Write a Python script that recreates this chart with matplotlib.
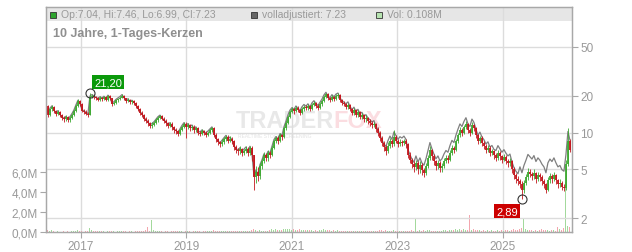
import numpy as np
import matplotlib
matplotlib.use('Agg')
import matplotlib.pyplot as plt
from matplotlib.patches import Rectangle
from matplotlib.ticker import NullLocator

plt.rcParams['font.family'] = ['Liberation Sans', 'DejaVu Sans']

# closes of roughly two-week candles, May 2016 .. Apr 2026
close = [
    16.5, 14.0, 15.5, 16.2, 15.0, 14.2, 14.8, 13.8, 13.2, 12.8,
    13.3, 12.6, 13.2, 14.0, 15.0, 16.5, 18.0, 17.0, 15.0, 14.8,
    14.3, 14.0, 19.5, 20.0, 19.5, 19.0, 18.6, 19.2, 18.8, 19.4,
    18.5, 19.8, 19.0, 17.0, 17.5, 18.3, 18.8, 19.3, 20.0, 19.0,
    18.0, 18.5, 17.6, 18.0, 17.3, 16.5, 15.5, 14.5, 14.0, 13.0,
    12.5, 12.0, 11.3, 11.6, 12.0, 12.6, 13.2, 13.6, 13.0, 12.4,
    12.0, 11.4, 11.8, 11.0, 10.5, 10.2, 9.8, 10.5, 11.2, 11.8,
    11.0, 11.5, 10.8, 11.2, 10.5, 10.8, 10.0, 9.8, 10.2, 9.9,
    9.6, 10.0, 10.4, 10.8, 9.6, 8.8, 8.3, 8.0, 8.4, 8.8,
    9.2, 8.6, 8.9, 8.5, 7.6, 7.2, 7.0, 7.3, 6.8, 7.1,
    7.4, 6.8, 7.5, 6.5, 4.3, 4.8, 4.4, 5.3, 5.8, 6.5,
    6.2, 6.8, 6.6, 7.5, 8.5, 9.0, 8.6, 9.5, 9.2, 10.8,
    12.0, 13.5, 14.8, 15.5, 15.0, 16.0, 15.2, 14.5, 15.6, 16.3,
    15.8, 16.5, 15.5, 16.8, 17.5, 16.6, 16.0, 17.0, 18.0, 19.5,
    20.5, 19.0, 18.5, 19.6, 18.8, 19.8, 20.2, 18.5, 17.5, 17.0,
    16.2, 16.8, 15.5, 14.5, 15.2, 14.0, 14.6, 13.5, 13.8, 12.8,
    13.2, 12.4, 12.0, 11.5, 11.8, 10.6, 10.0, 9.0, 8.2, 7.6,
    7.0, 7.8, 8.5, 8.0, 9.2, 8.6, 8.0, 8.4, 8.2, 8.5,
    8.0, 6.6, 6.0, 5.5, 5.2, 5.6, 5.0, 5.4, 4.9, 4.7,
    5.3, 6.2, 7.2, 6.4, 5.8, 5.3, 5.6, 5.1, 5.3, 5.8,
    6.2, 6.0, 6.8, 7.5, 7.2, 8.5, 9.5, 10.5, 10.0, 11.0,
    11.8, 10.5, 10.0, 11.5, 10.8, 9.5, 8.5, 9.0, 8.2, 7.8,
    7.2, 7.5, 6.8, 7.0, 6.5, 6.2, 6.8, 6.4, 6.0, 6.3,
    5.9, 5.6, 5.8, 5.0, 4.5, 4.2, 4.0, 3.8, 3.4, 3.9,
    4.3, 4.8, 4.6, 4.4, 4.7, 4.2, 4.5, 4.3, 4.0, 3.8,
    3.4, 4.1, 4.4, 4.2, 4.5, 4.1, 3.8, 3.9, 3.6, 3.5,
    5.5, 8.5, 7.23,
]
first_open = 16.8

high = [
    17.6, 16.9, 16.0, 16.8, 16.6, 15.4, 15.4, 15.1, 14.2, 13.6,
    13.8, 13.6, 13.6, 14.5, 15.6, 17.0, 18.8, 18.4, 17.3, 15.5,
    15.2, 14.7, 21.2, 20.6, 20.5, 19.9, 19.4, 19.8, 19.6, 20.0,
    19.8, 20.4, 20.2, 19.2, 18.0, 18.8, 19.3, 19.8, 20.6, 20.3,
    19.3, 19.0, 18.9, 18.5, 18.3, 17.6, 16.8, 15.8, 14.9, 14.3,
    13.4, 12.9, 12.3, 12.1, 12.5, 13.1, 13.7, 14.0, 13.9, 13.3,
    12.8, 12.3, 12.3, 12.1, 11.3, 10.9, 10.5, 10.9, 11.6, 12.3,
    12.2, 12.0, 11.8, 11.6, 11.5, 11.2, 11.1, 10.3, 10.6, 10.5,
    10.2, 10.3, 10.8, 11.2, 11.0, 9.9, 9.1, 8.6, 8.8, 9.2,
    9.6, 9.5, 9.3, 9.2, 8.7, 7.9, 7.5, 7.7, 7.5, 7.4,
    7.8, 7.6, 7.8, 7.7, 6.6, 5.3, 5.2, 5.6, 6.2, 6.9,
    6.8, 7.2, 7.1, 7.9, 8.9, 9.4, 9.3, 9.9, 9.8, 11.3,
    12.6, 14.0, 15.4, 16.2, 16.0, 16.6, 16.4, 15.6, 16.1, 16.9,
    16.8, 17.1, 16.8, 17.4, 18.2, 17.9, 17.0, 17.6, 18.7, 20.3,
    21.2, 20.9, 19.5, 20.2, 20.0, 20.5, 20.9, 20.5, 18.9, 18.0,
    17.4, 17.4, 17.1, 15.9, 15.8, 15.5, 15.2, 14.9, 14.4, 14.1,
    13.8, 13.5, 12.8, 12.4, 12.3, 12.0, 11.0, 10.3, 9.3, 8.5,
    7.9, 8.3, 9.0, 8.8, 10.4, 9.6, 8.9, 8.8, 8.7, 8.9,
    8.8, 8.2, 6.9, 6.2, 5.8, 6.0, 5.9, 5.8, 5.6, 5.1,
    5.6, 6.6, 7.8, 7.4, 6.7, 6.0, 6.0, 5.8, 5.6, 6.2,
    6.6, 6.5, 7.2, 7.9, 7.8, 8.9, 10.0, 11.1, 10.9, 11.5,
    12.4, 12.0, 10.9, 12.1, 11.8, 11.0, 9.8, 9.4, 9.3, 8.5,
    8.0, 7.9, 7.7, 7.4, 7.2, 6.8, 7.2, 7.0, 6.6, 6.7,
    6.5, 6.1, 6.2, 6.0, 5.2, 4.7, 4.4, 4.2, 4.0, 4.1,
    4.6, 5.1, 5.0, 4.8, 5.0, 4.8, 4.8, 4.7, 4.5, 4.2,
    3.9, 4.3, 4.7, 4.6, 4.8, 4.6, 4.2, 4.2, 4.0, 3.8,
    6.0, 10.8, 8.8,
]

low = [
    15.8, 13.4, 13.6, 15.0, 14.5, 13.6, 13.8, 13.3, 12.7, 12.3,
    12.4, 12.1, 12.3, 12.9, 13.7, 14.7, 16.2, 16.5, 14.6, 14.2,
    13.8, 13.5, 13.8, 19.0, 18.8, 18.4, 18.0, 18.2, 18.2, 18.4,
    18.0, 18.2, 18.5, 16.6, 16.7, 17.2, 17.9, 18.4, 19.0, 18.5,
    17.5, 17.6, 17.1, 17.1, 16.8, 16.0, 15.0, 14.0, 13.4, 12.5,
    12.0, 11.4, 10.8, 10.9, 11.3, 11.7, 12.3, 12.9, 12.6, 11.9,
    11.4, 10.9, 11.0, 10.5, 10.0, 9.7, 9.3, 9.5, 10.2, 10.9,
    9.0, 10.6, 10.3, 10.4, 10.0, 10.1, 9.6, 9.4, 9.5, 9.5,
    9.2, 9.3, 9.7, 10.1, 9.2, 8.4, 7.9, 7.6, 7.7, 8.1,
    8.5, 8.2, 8.3, 8.1, 7.2, 6.8, 6.6, 6.7, 6.4, 6.5,
    6.8, 6.4, 6.5, 5.9, 3.4, 3.9, 4.0, 4.2, 5.0, 5.6,
    5.8, 5.9, 6.2, 6.4, 7.3, 8.2, 8.1, 8.4, 8.7, 9.0,
    10.5, 11.7, 13.1, 14.4, 14.2, 14.6, 14.6, 13.8, 14.2, 15.1,
    15.2, 15.4, 14.9, 15.2, 16.4, 16.0, 15.4, 15.6, 16.6, 17.6,
    19.0, 18.3, 17.8, 18.0, 18.1, 18.3, 19.2, 17.9, 16.9, 16.4,
    15.6, 15.7, 14.9, 13.9, 14.0, 13.4, 13.5, 12.9, 13.0, 12.2,
    12.3, 11.8, 11.4, 10.9, 11.0, 10.1, 9.4, 8.5, 7.7, 7.0,
    6.6, 6.8, 7.5, 7.6, 7.8, 8.2, 7.6, 7.7, 7.8, 7.9,
    7.5, 6.2, 5.6, 5.1, 4.8, 4.9, 4.6, 4.7, 4.5, 4.3,
    4.5, 5.1, 6.0, 6.0, 5.4, 4.9, 5.0, 4.8, 4.8, 5.1,
    5.6, 5.6, 5.8, 6.6, 6.8, 7.0, 8.2, 9.2, 9.4, 9.7,
    10.6, 10.0, 9.3, 9.8, 10.2, 9.0, 8.0, 8.2, 7.8, 7.3,
    6.8, 6.9, 6.4, 6.5, 6.1, 5.8, 6.0, 6.0, 5.6, 5.8,
    5.5, 5.2, 5.3, 4.7, 4.2, 3.9, 3.7, 3.5, 2.89, 3.2,
    3.7, 4.1, 4.3, 4.1, 4.2, 3.9, 4.0, 4.0, 3.7, 3.5,
    3.2, 3.3, 3.9, 3.9, 4.0, 3.8, 3.5, 3.6, 3.4, 3.3,
    3.4, 5.3, 6.99,
]

# volume in millions per candle
volume = [
    0.2, 0.2, 0.15, 0.2, 0.1, 0.05, 0.1, 0.05, 0.05, 0.1,
    0.05, 0.1, 0.05, 0.1, 0.1, 0.15, 0.2, 0.1, 0.1, 0.05,
    0.1, 0.1, 0.4, 0.2, 0.15, 0.1, 0.1, 0.15, 0.1, 0.1,
    0.05, 0.1, 0.1, 0.15, 0.1, 0.05, 0.1, 0.1, 0.15, 0.1,
    0.1, 0.05, 0.1, 0.1, 0.05, 0.1, 0.1, 0.1, 0.15, 0.1,
    0.2, 0.5, 0.1, 1.2, 0.2, 0.15, 0.1, 0.1, 0.1, 0.05,
    0.1, 0.1, 0.05, 0.1, 0.1, 0.1, 0.15, 0.1, 0.1, 0.05,
    0.1, 0.15, 0.1, 0.05, 0.1, 0.1, 0.1, 0.1, 0.05, 0.1,
    0.1, 0.1, 0.15, 0.1, 0.2, 0.1, 0.1, 0.15, 0.1, 0.1,
    0.1, 0.15, 0.1, 0.1, 0.15, 0.1, 0.1, 0.1, 0.15, 0.1,
    0.1, 0.15, 0.1, 0.2, 0.3, 0.2, 0.15, 0.2, 0.15, 0.15,
    0.1, 0.15, 0.2, 0.3, 0.25, 0.3, 0.2, 0.25, 0.2, 0.3,
    0.3, 0.35, 0.3, 0.25, 0.3, 0.2, 0.25, 0.3, 0.2, 0.25,
    0.2, 0.25, 0.2, 0.2, 0.15, 0.2, 0.15, 0.2, 0.2, 0.3,
    0.25, 0.2, 0.2, 0.15, 0.2, 0.15, 0.2, 0.15, 0.1, 0.15,
    0.15, 0.1, 0.15, 0.1, 0.1, 0.15, 0.1, 0.1, 0.15, 0.1,
    0.1, 0.1, 0.15, 0.1, 0.1, 0.1, 0.15, 0.2, 0.2, 0.15,
    0.2, 0.15, 0.15, 0.1, 0.2, 0.1, 0.1, 0.1, 0.15, 0.1,
    0.1, 0.15, 0.15, 0.2, 0.1, 1.3, 0.15, 0.2, 0.15, 0.2,
    0.15, 0.2, 0.25, 0.15, 0.15, 0.1, 0.15, 0.1, 0.15, 0.2,
    0.2, 0.15, 0.2, 0.25, 0.2, 0.3, 0.25, 0.3, 0.2, 0.3,
    0.25, 0.2, 1.7, 0.2, 0.3, 0.25, 0.2, 0.2, 0.15, 0.2,
    0.15, 0.2, 0.15, 0.2, 0.15, 0.15, 0.2, 0.15, 0.2, 0.15,
    0.2, 0.2, 0.15, 0.25, 0.3, 0.2, 0.25, 0.3, 0.4, 1.4,
    0.3, 0.25, 0.2, 0.2, 0.15, 0.2, 0.15, 0.2, 0.3, 0.2,
    0.25, 0.2, 0.15, 0.2, 0.2, 0.15, 0.5, 0.3, 0.2, 0.4,
    5.0, 0.6, 0.5,
]

# adjustment factor of the "volladjustiert" line, from candle index on
adj_from = [0, 70, 126, 150, 170, 185, 205, 225, 237, 260]
adj_factor = [1.02, 1.03, 1.04, 1.06, 1.10, 1.15, 1.12, 1.15, 1.38, 1.2]

year_ticks = [2017, 2019, 2021, 2023, 2025]
price_ticks = [2, 5, 10, 20, 50]
vol_ticks = [0, 2, 4, 6]

start_year = 2016.335
step = 0.03795

GREEN = '#3ea832'
RED = '#c3161d'
GRID = '#dcdcdc'
AXC = '#a8a8a8'
TXT = '#999999'

n = len(close)
x = start_year + step * np.arange(n)
c = np.array(close)
o = np.r_[first_open, c[:-1]]
up = c >= o
lo_b = np.minimum(o, c)
hi_b = np.maximum(np.maximum(o, c), lo_b * 1.012)
hi_w = np.maximum(np.array(high), hi_b)
lo_w = np.minimum(np.array(low), lo_b)

fig = plt.figure(figsize=(6.32, 2.53), dpi=100)
ax_v = fig.add_axes([46 / 632, 20 / 253, 526 / 632, 225 / 253])
ax_p = ax_v.twinx()

# volume
vcol = np.where(up, '#a3d99c', '#f3a6ae')
ax_v.bar(x, volume, width=step * 0.55, color=vcol, zorder=1)
ax_v.set_ylim(0, 22.5)
ax_v.set_yticks(vol_ticks)
ax_v.set_yticklabels([f'{v:.1f}M'.replace('.', ',') for v in vol_ticks])
ax_v.set_xlim(2016.336, 2026.317)
ax_v.set_xticks(year_ticks)
ax_v.set_xticklabels([str(y) for y in year_ticks])
ax_v.grid(axis='x', color=GRID, lw=1, zorder=0.5)
ax_v.set_axisbelow(True)

# header band
ax_v.add_patch(Rectangle((0, (233 - 22) / 225), 1, 14 / 225, transform=ax_v.transAxes,
                         fc='#e6e6e6', ec='none', zorder=0.1))

# watermark
ax_v.text(236 / 632, 1 - 121 / 253, 'TRADER', transform=fig.transFigure, fontsize=17,
          weight='bold', color='#e8e8e8', va='center', zorder=0.2)
ax_v.text(333 / 632, 1 - 121 / 253, 'FOX', transform=fig.transFigure, fontsize=17,
          weight='bold', color='#fbdde1', va='center', zorder=0.2)
ax_v.text(238 / 632, 1 - 137 / 253, 'REALTIME STOCK SCREENING', transform=fig.transFigure,
          fontsize=3.6, color='#e3e3e3', va='center', zorder=0.2)

# price
fac = np.repeat(adj_factor, np.diff(adj_from + [n]))
ax_p.plot(x, c * fac, color='#7f7f7f', lw=0.9, zorder=1)
for m, col in [(up, GREEN), (~up, RED)]:
    ax_p.vlines(x[m], lo_w[m], hi_w[m], color=col, lw=0.6, zorder=2)
    ax_p.vlines(x[m], lo_b[m], hi_b[m], color=col, lw=1.3, zorder=2)

ax_p.set_yscale('log')
ax_p.set_ylim(1.54, 106)
ax_p.set_yticks(price_ticks)
ax_p.set_yticklabels([str(p) for p in price_ticks])
ax_p.yaxis.set_minor_locator(NullLocator())
ax_p.grid(axis='y', which='major', color=GRID, lw=1)
ax_p.set_axisbelow(True)

# high / low markers
ax_p.plot(x[22], 21.20, marker='o', ms=6.5, mfc='none', mec='#333333', mew=0.8, zorder=3)
ax_p.annotate('21,20', (x[22], 21.20), xytext=(13, 7.5), textcoords='offset points',
              ha='center', va='center', fontsize=8, color='white', zorder=4,
              bbox=dict(boxstyle='square,pad=0.2', fc='#0b990b', ec='none'))
ax_p.plot(x[238], 2.89, marker='o', ms=6.5, mfc='none', mec='#333333', mew=0.8, zorder=3)
ax_p.annotate('2,89', (x[238], 2.89), xytext=(-10.5, -9), textcoords='offset points',
              ha='center', va='center', fontsize=8, color='white', zorder=4,
              bbox=dict(boxstyle='square,pad=0.2', fc='#cc0000', ec='none'))

for a in (ax_v, ax_p):
    for s in a.spines.values():
        s.set_color(AXC)
        s.set_linewidth(0.9)
ax_v.tick_params(axis='both', direction='out', length=4, color=AXC, labelcolor=TXT,
                 labelsize=8.5, pad=2)
ax_p.tick_params(axis='y', direction='out', length=4, color=AXC, labelcolor=TXT,
                 labelsize=8.5, pad=2)

# legend line in the header
def fx(px):
    return px / 632

def fy(py):
    return 1 - py / 253

for px, col in [(50, '#2fa52f'), (251, '#666666'), (376, '#b6e3b0')]:
    fig.add_artist(Rectangle((fx(px), fy(19)), 6 / 632, 6 / 253, transform=fig.transFigure,
                             fc=col, ec='#333333', lw=0.6))
fig.text(fx(61), fy(15), 'Op:7.04, Hi:7.46, Lo:6.99, Cl:7.23', va='center', fontsize=7.5, color=TXT)
fig.text(fx(262), fy(15), 'volladjustiert: 7.23', va='center', fontsize=7.5, color=TXT)
fig.text(fx(387), fy(15), 'Vol: 0.108M', va='center', fontsize=7.5, color=TXT)
fig.text(fx(53), fy(34), '10 Jahre, 1-Tages-Kerzen', va='center', fontsize=9, weight='bold',
         color='#8f8f8f')

fig.savefig('out.png', dpi=100)
